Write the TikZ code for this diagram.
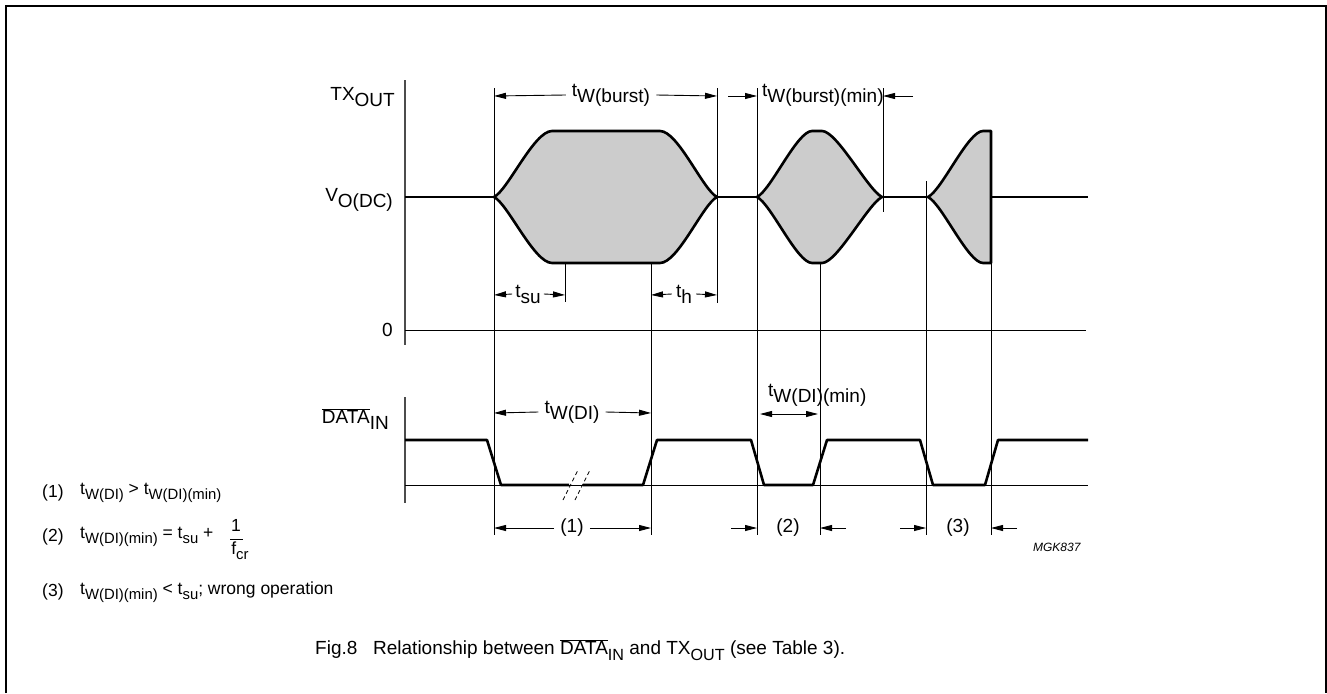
\documentclass[tikz,border=0pt]{standalone}
\usepackage{fontspec}
\setmainfont{Liberation Sans}
\usetikzlibrary{arrows.meta}

% base letter with a lowered index of (almost) the same size
\newcommand{\lsub}[2]{#1\raisebox{-0.32em}{#2}}
\newcommand{\ssub}[2]{#1\raisebox{-0.3em}{\scalebox{0.85}{#2}}}

\tikzset{
  sig/.style={line width=2.6pt, line join=round},
  burst/.style={sig, fill=black!20},
  guide/.style={line width=0.9pt},
  axis/.style={line width=1.8pt, black!70},
  tip/.tip={Triangle[length=12pt,width=6pt]},
  dim/.style={line width=0.9pt, -tip},
  lbl/.style={font=\fontsize{19}{22}\selectfont, inner sep=2pt},
  dimlbl/.style={lbl, inner xsep=6pt},
  note/.style={font=\fontsize{17.5}{20}\selectfont, anchor=west, inner sep=0pt},
}

\begin{document}
\begin{tikzpicture}[x=1pt,y=-1pt]
  \useasboundingbox (0,0) rectangle (1327,693);
  \draw[line width=1.6pt] (6,693) -- (6,6) -- (1326,6) -- (1326,693);

  % axes and zero lines
  \draw[axis] (405,80) -- (405,345);
  \draw[axis] (405,397) -- (405,503);
  \draw[guide] (405,330) -- (1086,330);
  \draw[guide] (405,485) -- (1088,485);

  \node[lbl, anchor=east] (tx) at (397,97) {\lsub{TX}{OUT}};
  \node[lbl, anchor=east] (vo) at (395,200) {\lsub{V}{O(DC)}};
  \node[lbl, anchor=east] (zero) at (395,330) {0};
  \node[lbl, anchor=east] (din) at (391,419) {\lsub{$\overline{\mbox{DATA}}$}{IN}};

  % timing marks
  \foreach \x/\ya/\yb in {494/88/535, 565/250/302, 651/250/535, 717/88/303,
                          757/88/535, 820/251/535, 883/88/212, 926/181/535, 991/262/535}
    \draw[guide] (\x,\ya) -- (\x,\yb);

  % TX output
  \draw[sig] (405,197) -- (494,197);
  \draw[burst] (494,197) .. controls (508,190) and (534,131) .. (552,131) -- (660,131)
    .. controls (678,131) and (703,190) .. (717,197)
    .. controls (703,204) and (678,263) .. (660,263) -- (552,263)
    .. controls (534,263) and (508,204) .. (494,197) -- cycle;
  \draw[sig] (717,197) -- (757,197);
  \draw[burst] (757,197) .. controls (771,190) and (797,131) .. (812,131) -- (822,131)
    .. controls (837,131) and (868,190) .. (882,197)
    .. controls (868,204) and (837,263) .. (822,263) -- (812,263)
    .. controls (797,263) and (771,204) .. (757,197) -- cycle;
  \draw[sig] (882,197) -- (928,197);
  \draw[burst] (928,197) .. controls (942,190) and (968,131) .. (983,131) -- (991,131)
    -- (991,263) -- (983,263) .. controls (968,263) and (942,204) .. (928,197) -- cycle;
  \draw[sig] (991,197) -- (1088,197);

  % DATA input
  \draw[sig] (405,440) -- (487,440) -- (501,485) -- (569,485);
  \draw[sig] (583,485) -- (643,485) -- (657,440) -- (751,440) -- (764,485) -- (813,485)
    -- (827,440) -- (920,440) -- (933,485) -- (985,485) -- (998,440) -- (1088,440);
  \draw[line width=0.8pt, dash pattern=on 4pt off 3pt] (563,500) -- (578,470) (575,500) -- (590,470);

  % dimensions
  \node[dimlbl] (tb) at (611,95) {\lsub{t}{W(burst)}};
  \draw[dim] (tb.west) -- (494,96);
  \draw[dim] (tb.east) -- (717,96);
  \node[lbl, anchor=west] (tbm) at (760,95) {\lsub{t}{W(burst)(min)}};
  \draw[dim] (728,96) -- (757,96);
  \draw[dim] (913,96) -- (883,96);
  \node[dimlbl, inner xsep=3pt] (tsu) at (528,294) {\lsub{t}{su}};
  \draw[dim] (tsu.west) -- (494,295);
  \draw[dim] (tsu.east) -- (565,295);
  \node[dimlbl, inner xsep=4pt] (th) at (684,294) {\lsub{t}{h}};
  \draw[dim] (th.west) -- (651,295);
  \draw[dim] (th.east) -- (717,295);

  \node[dimlbl] (twdi) at (572,412) {\lsub{t}{W(DI)}};
  \draw[dim] (twdi.west) -- (494,413);
  \draw[dim] (twdi.east) -- (651,413);
  \node[lbl, anchor=west] (twmin) at (766,395) {\lsub{t}{W(DI)(min)}};
  \draw[line width=0.9pt, tip-tip] (760,414) -- (818,414);

  \node[dimlbl] (c1) at (572,528) {(1)};
  \draw[dim] (c1.west) -- (494,528);
  \draw[dim] (c1.east) -- (651,528);
  \node[lbl] (c2) at (788,528) {(2)};
  \draw[dim] (731,528) -- (757,528);
  \draw[dim] (846,528) -- (820,528);
  \node[lbl] (c3) at (958,528) {(3)};
  \draw[dim] (900,528) -- (926,528);
  \draw[dim] (1017,528) -- (991,528);

  \node[font=\fontsize{12}{14}\selectfont\itshape, anchor=east] (mgk) at (1084,547) {MGK837};

  % notes
  \node[note] (n1) at (42,493) {(1)};
  \node[note] (f1) at (80,493) {\ssub{t}{W(DI)} > \ssub{t}{W(DI)(min)}};
  \node[note] (n2) at (42,537) {(2)};
  \node[note] (f2) at (80,537) {\ssub{t}{W(DI)(min)} = \ssub{t}{su} +};
  \node[note, anchor=center] (one) at (236,525) {1};
  \node[note, anchor=center] (fcr) at (240,551) {\ssub{f}{cr}};
  \draw[line width=0.8pt] (230,539) -- (243,539);
  \node[note] (n3) at (42,592) {(3)};
  \node[note] (f3) at (80,592) {\ssub{t}{W(DI)(min)} < \ssub{t}{su}; wrong operation};

  \node[font=\fontsize{19}{22}\selectfont, anchor=west, inner sep=0pt] (cap) at (315,650)
    {Fig.8\hspace{0.55em} Relationship between \ssub{$\overline{\mbox{DATA}}$}{IN} and \ssub{TX}{OUT} (see Table 3).};
\end{tikzpicture}
\end{document}
